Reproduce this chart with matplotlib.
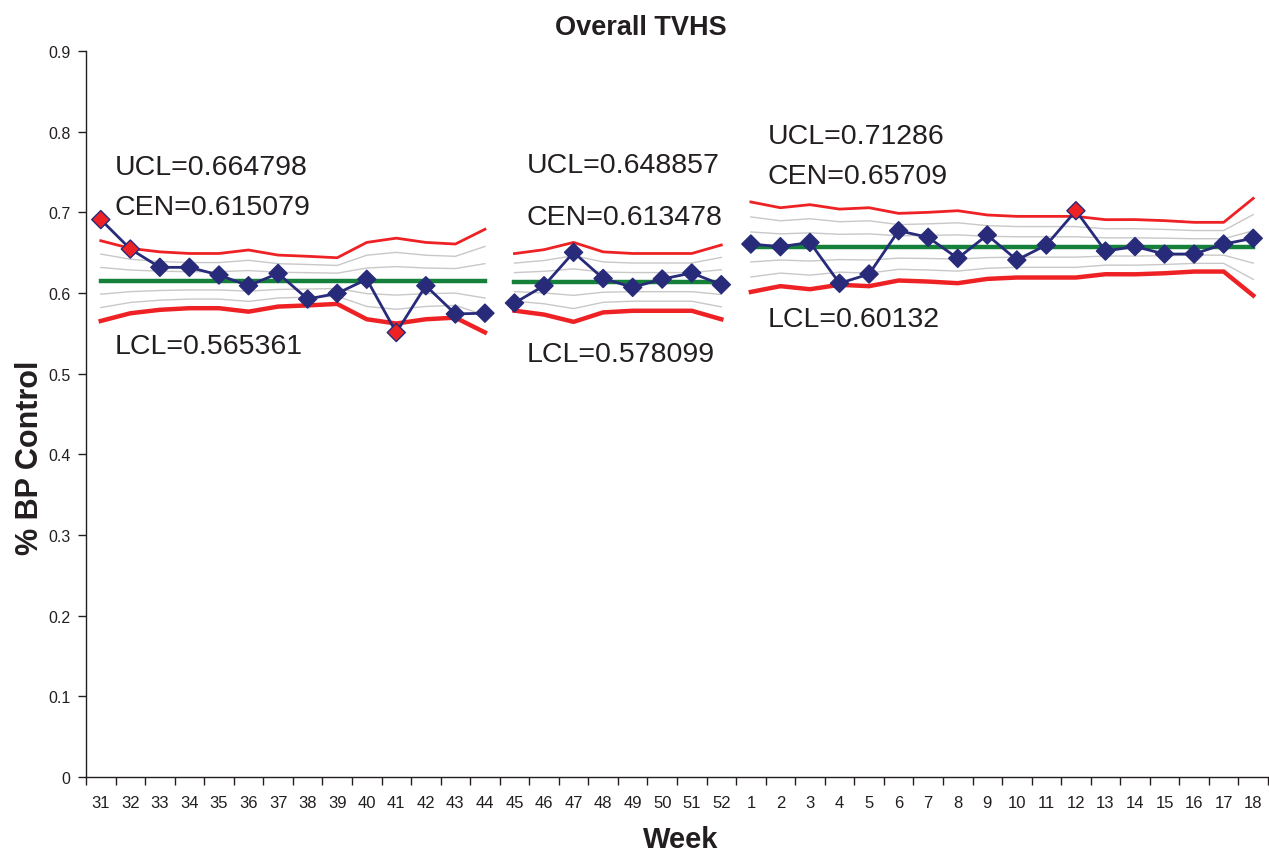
import matplotlib
matplotlib.use("Agg")
import matplotlib.pyplot as plt
import numpy as np

weeks = [str(w) for w in range(31, 53)] + [str(w) for w in range(1, 19)]

seg1_vals = [0.691, 0.6545, 0.6318, 0.6318, 0.6223, 0.609, 0.6243, 0.5925, 0.5995,
             0.617, 0.551, 0.609, 0.574, 0.575]
seg1_ucl = [0.664798, 0.6553, 0.651, 0.649, 0.649, 0.6533, 0.647, 0.6455, 0.6437,
            0.6627, 0.668, 0.6627, 0.6607, 0.679]
seg1_cen = 0.615079

seg2_vals = [0.5876, 0.609, 0.6504, 0.618, 0.607, 0.6173, 0.6248, 0.6103]
seg2_ucl = [0.648857, 0.6537, 0.6627, 0.651, 0.649, 0.649, 0.649, 0.6595]
seg2_cen = 0.613478

seg3_vals = [0.6607, 0.6574, 0.6627, 0.612, 0.6235, 0.6772, 0.669, 0.643, 0.6719,
             0.6409, 0.6595, 0.702, 0.652, 0.6576, 0.6483, 0.6483, 0.6607, 0.6678]
seg3_ucl = [0.71286, 0.7057, 0.7095, 0.704, 0.7057, 0.6987, 0.700, 0.702, 0.6967,
            0.695, 0.695, 0.695, 0.6909, 0.691, 0.6897, 0.6876, 0.6876, 0.7173]
seg3_cen = 0.65709

# out-of-control flags (index within segment)
seg1_flag = [0, 1, 10]
seg2_flag = []
seg3_flag = [11]

labels1 = ["UCL=0.664798", "CEN=0.615079", "LCL=0.565361"]
labels2 = ["UCL=0.648857", "CEN=0.613478", "LCL=0.578099"]
labels3 = ["UCL=0.71286", "CEN=0.65709", "LCL=0.60132"]

NAVY = "#272b7a"
RED = "#ee2224"
GREEN = "#15803a"
GRAY = "#c8c8c8"
TXT = "#231f20"
FONT = ["Liberation Sans", "DejaVu Sans"]

fig = plt.figure(figsize=(12.69, 8.54), dpi=100)
ax = fig.add_axes([86/1269, 1-778/854, (1268-86)/1269, (778-52)/854])

segments = [
    (0, seg1_vals, seg1_ucl, seg1_cen, seg1_flag),
    (14, seg2_vals, seg2_ucl, seg2_cen, seg2_flag),
    (22, seg3_vals, seg3_ucl, seg3_cen, seg3_flag),
]

for start, vals, ucl, cen, flags in segments:
    n = len(vals)
    x = np.arange(start, start + n)
    ucl = np.array(ucl)
    lcl = 2 * cen - ucl
    for k in (1/3, 2/3):
        ax.plot(x, cen + k * (ucl - cen), color=GRAY, lw=1.0, zorder=1)
        ax.plot(x, cen - k * (ucl - cen), color=GRAY, lw=1.0, zorder=1)
    ax.plot(x, ucl, color=RED, lw=2.0, zorder=2)
    ax.plot(x, lcl, color=RED, lw=3.2, zorder=2)
    ax.plot(x, [cen] * n, color=GREEN, lw=3.2, zorder=3)
    ax.plot(x, vals, color=NAVY, lw=2.0, zorder=4)
    fc = [RED if i in flags else NAVY for i in range(n)]
    ax.scatter(x, vals, marker="D", s=85, c=fc, edgecolors=NAVY, linewidths=1.0, zorder=5)

ann_pos = [
    (0.48, [0.756, 0.7066, 0.534], labels1),
    (14.41, [0.7587, 0.6948, 0.524], labels2),
    (22.56, [0.7946, 0.7446, 0.5677], labels3),
]
for xx, ys, labs in ann_pos:
    for yy, t in zip(ys, labs):
        ax.text(xx, yy, t, fontsize=20.5, family=FONT, color=TXT, va="center", ha="left")

ax.set_xlim(-0.5, len(weeks) - 0.5)
ax.set_ylim(0, 0.9)
ax.set_yticks(np.arange(0, 0.91, 0.1))
ax.set_yticklabels(["0"] + [f"{v:.1f}" for v in np.arange(0.1, 0.91, 0.1)],
                   fontsize=11.5, family=FONT, color=TXT)
ax.set_xticks(np.arange(-0.5, len(weeks), 1.0))
ax.set_xticklabels([])
ax.set_xticks(np.arange(len(weeks)), minor=True)
ax.set_xticklabels(weeks, minor=True, fontsize=12, family=FONT, color=TXT)
ax.tick_params(axis="x", which="major", length=6, direction="out", width=1.0, color=TXT)
ax.tick_params(axis="x", which="minor", length=0, pad=13)
ax.tick_params(axis="y", length=6, direction="out", width=1.0, pad=5, color=TXT)
for s in ("top", "right"):
    ax.spines[s].set_visible(False)
for s in ("left", "bottom"):
    ax.spines[s].set_color(TXT)
    ax.spines[s].set_linewidth(1.0)

fig.text(641/1269, 1-28/854, "Overall TVHS", fontsize=19.5, fontweight="bold",
         family=FONT, color=TXT, ha="center", va="center")
ax.set_ylabel("% BP Control", fontsize=22, fontweight="bold", family=FONT, color=TXT)
ax.yaxis.set_label_coords((30-86)/1182, (778-458)/726)
ax.yaxis.label.set_va("center")
ax.set_xlabel("Week", fontsize=21, fontweight="bold", family=FONT, color=TXT)
ax.xaxis.set_label_coords((681-86)/1182, (778-840)/726)
ax.xaxis.label.set_va("center")

fig.savefig("out.png", dpi=100)
